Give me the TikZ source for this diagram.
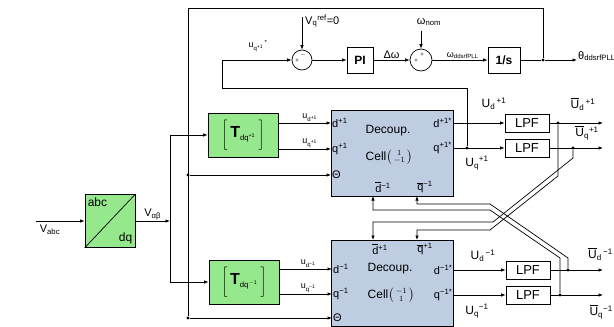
\documentclass[tikz,border=0pt]{standalone}
\usepackage{fontspec}
\usepackage{amsmath}
\setmainfont{Liberation Sans}
\usetikzlibrary{arrows.meta}

\definecolor{tgreen}{RGB}{150,232,140}
\definecolor{cellblue}{RGB}{190,205,225}
\newcommand{\ovl}[1]{$\overline{\mbox{#1}}$}
\newcommand{\Tdq}[1]{$\left[\rule[-13pt]{0pt}{29pt}\;\mbox{\fontsize{16}{18}\selectfont\textbf{T}\fontsize{11}{13}\selectfont\textsubscript{dq\textsuperscript{#1}}}\;\right]$}
\newcommand{\cellvec}[2]{Cell$\left(\rule[-4pt]{0pt}{12pt}\begin{smallmatrix}#1\\#2\end{smallmatrix}\right)$}

\tikzset{
    blk/.style={draw, line width=0.8pt, inner sep=1pt},
    tblk/.style={blk, fill=tgreen, minimum width=70pt, minimum height=44pt},
    cellblk/.style={blk, fill=cellblue, minimum width=122pt, minimum height=86pt},
    lpf/.style={blk, minimum width=44pt, minimum height=18pt, font=\fontsize{13}{15}\selectfont},
    sumnode/.style={draw, circle, line width=0.7pt, minimum size=20pt, inner sep=0pt},
    sign/.style={font=\fontsize{6}{7}\selectfont, inner sep=0pt},
    wire/.style={line width=0.7pt},
    link/.style={wire, -{Latex[length=4.5pt,width=3.5pt]}},
    junc/.style={circle, fill, inner sep=0pt, minimum size=3.2pt},
    lbl/.style={font=\fontsize{11}{13}\selectfont, inner sep=1pt},
    ulbl/.style={font=\fontsize{9}{11}\selectfont, inner sep=1pt},
    olbl/.style={font=\fontsize{12}{14}\selectfont, inner sep=1pt},
    pinlbl/.style={font=\fontsize{11}{13}\selectfont, inner sep=1pt},
    celltxt/.style={font=\fontsize{12}{14}\selectfont, inner sep=0pt}
}

\begin{document}
\begin{tikzpicture}[x=1pt, y=-1pt]
    \useasboundingbox (0,0) rectangle (614,327);

    % PLL loop
    \node[sumnode] (sum1) at (302,60) {};
    \node[sign] at ([shift={(-5,1)}]sum1.center) {+};
    \node[sign] at ([shift={(1,-5)}]sum1.center) {$-$};
    \node[blk, minimum width=26pt, minimum height=26pt, font=\fontsize{12}{14}\selectfont\bfseries] (pi) at (360,60) {PI};
    \node[sumnode, minimum size=22pt] (sum2) at (421,60) {};
    \node[sign] at ([shift={(-5,1)}]sum2.center) {+};
    \node[sign] at ([shift={(1,-5)}]sum2.center) {+};
    \node[blk, minimum width=32pt, minimum height=26pt, font=\fontsize{12}{14}\selectfont\bfseries] (integ) at (504,60) {1/s};
    \coordinate (vrefin) at (302,17);
    \node[lbl, anchor=west] (vref) at (304,21) {V\textsubscript{q}\textsuperscript{ref}=0};
    \coordinate (wnomin) at (421,31);
    \node[lbl] (wnom) at (429,22) {ω\textsubscript{nom}};
    \node[junc] (jth) at (543,60) {};
    \node[lbl, anchor=west] (thout) at (577,56) {θ\textsubscript{ddsrfPLL}};
    \draw[link] (vrefin) -- (sum1);
    \draw[link] (wnomin) -- (sum2);
    \draw[link] (sum1) -- (pi);
    \draw[link] (pi) -- node[lbl, above] {Δω} (sum2);
    \draw[link] (sum2) -- node[ulbl, above, pos=0.55] {ω\textsubscript{ddsrfPLL}} (integ);
    \draw[wire] (integ) -- (jth);
    \draw[link] (jth) -- (jth -| thout.west);

    % abc/dq and Park blocks
    \node[blk, fill=tgreen, minimum width=50pt, minimum height=53pt] (abcdq) at (110,221) {};
    \draw[line width=0.7pt] (abcdq.south west) -- (abcdq.north east);
    \node[celltxt, anchor=north west] (abc) at ([shift={(3,4)}]abcdq.north west) {abc};
    \node[celltxt, anchor=south east] (dq) at ([shift={(-3,-4)}]abcdq.south east) {dq};
    \node[tblk] (tp) at (243,135) {\Tdq{+1}};
    \node[tblk] (tm) at (244,282) {\Tdq{$-$1}};
    \coordinate (vin) at (36,221);
    \coordinate (vab) at (170,221);
    \node[lbl] (vabc) at (50,230) {V\textsubscript{abc}};
    \draw[link] (vin) -- (abcdq);
    \draw[link] (abcdq) -- node[lbl, above] {V\textsubscript{αβ}} (vab);
    \draw[wire] (vab |- tp) -- (vab |- tm);
    \draw[link] (vab |- tp) -- (tp);
    \draw[link] (vab |- tm) -- (tm);

    % decoupling cells
    \node[cellblk] (cellp) at (392,153) {};
    \node[cellblk] (cellm) at (392.5,283) {};
    \coordinate (p-din) at (331,123);
    \coordinate (p-qin) at (331,149);
    \coordinate (p-thin) at (331,175);
    \coordinate (p-dout) at (453,123);
    \coordinate (p-qout) at (453,148);
    \coordinate (p-dbar) at (373,196);
    \coordinate (p-qbar) at (417,196);
    \coordinate (m-din) at (332,269);
    \coordinate (m-qin) at (332,294);
    \coordinate (m-thin) at (332,318);
    \coordinate (m-dout) at (453.5,270);
    \coordinate (m-qout) at (453.5,295);
    \coordinate (m-dbar) at (373,240);
    \coordinate (m-qbar) at (417,240);
    \node[celltxt] at (388,131) {Decoup.};
    \node[celltxt] at (389,157) {\cellvec{1}{-1}};
    \node[pinlbl, anchor=west] at (p-din) {d\textsuperscript{+1}};
    \node[pinlbl, anchor=west] at (p-qin) {q\textsuperscript{+1}};
    \node[pinlbl, anchor=west] at (p-thin) {Θ};
    \node[pinlbl, anchor=east] at (p-dout) {d\textsuperscript{+1*}};
    \node[pinlbl, anchor=east] at (p-qout) {q\textsuperscript{+1*}};
    \node[pinlbl] at (383,187) {\ovl{d}\textsuperscript{−1}};
    \node[pinlbl] at (425,187) {\ovl{q}\textsuperscript{−1}};
    \node[celltxt] at (390,269) {Decoup.};
    \node[celltxt] at (391,295) {\cellvec{-1}{1}};
    \node[pinlbl, anchor=west] at (m-din) {d\textsuperscript{−1}};
    \node[pinlbl, anchor=west] at (m-qin) {q\textsuperscript{−1}};
    \node[pinlbl, anchor=west] at (m-thin) {Θ};
    \node[pinlbl, anchor=east] at (m-dout) {d\textsuperscript{−1*}};
    \node[pinlbl, anchor=east] at (m-qout) {q\textsuperscript{−1*}};
    \node[pinlbl] at (380,249) {\ovl{d}\textsuperscript{+1}};
    \node[pinlbl] at (425,249) {\ovl{q}\textsuperscript{+1}};
    \draw[link] (tp.east |- p-din) -- node[ulbl, above, pos=0.6] {u\textsubscript{d\textsuperscript{+1}}} (p-din);
    \draw[link] (tp.east |- p-qin) -- node[ulbl, above, pos=0.6] {u\textsubscript{q\textsuperscript{+1}}} (p-qin);
    \draw[link] (tm.east |- m-din) -- node[ulbl, above, pos=0.55] {u\textsubscript{d\textsuperscript{−1}}} (m-din);
    \draw[link] (tm.east |- m-qin) -- node[ulbl, above, pos=0.55] {u\textsubscript{q\textsuperscript{−1}}} (m-qin);

    % theta feedback
    \coordinate (thtop) at (188,8);
    \node[junc] (jthp) at (188,175) {};
    \node[junc] (jthm) at (188,318) {};
    \draw[wire] (jth) |- (thtop) -- (jthm);
    \draw[link] (jthp) -- (p-thin);
    \draw[link] (jthm) -- (m-thin);

    % filters and outputs
    \node[lpf] (lpf1) at (527,123) {LPF};
    \node[lpf] (lpf2) at (527,148) {LPF};
    \node[lpf] (lpf3) at (528,270) {LPF};
    \node[lpf] (lpf4) at (528,295) {LPF};
    \coordinate (o1) at (603,123);
    \coordinate (o2) at (603,148);
    \coordinate (o3) at (603,270);
    \coordinate (o4) at (603,295);
    \node[junc] (jfb) at (467,148) {};
    \node[junc] (j1) at (558,123) {};
    \node[junc] (j2) at (573,148) {};
    \node[junc] (j3) at (568,270) {};
    \node[junc] (j4) at (560,295) {};
    \draw[link] (p-dout) -- (lpf1);
    \draw[link] (p-qout) -- (lpf2);
    \draw[link] (m-dout) -- (lpf3);
    \draw[link] (m-qout) -- (lpf4);
    \draw[link] (lpf1) -- (o1);
    \draw[link] (lpf2) -- (o2);
    \draw[link] (lpf3) -- (o3);
    \draw[link] (lpf4) -- (o4);
    \node[olbl] (udp) at (494,104) {U\textsubscript{d}\textsuperscript{\,+1}};
    \node[olbl] (uqp) at (477,163) {U\textsubscript{q}\textsuperscript{+1}};
    \node[olbl] (ubdp) at (583,104) {\ovl{U}\textsubscript{d}\textsuperscript{\,+1}};
    \node[olbl] (ubqp) at (587,133) {\ovl{U}\textsubscript{q}\textsuperscript{+1}};
    \node[olbl] (udm) at (483,256) {U\textsubscript{d}\textsuperscript{\,−1}};
    \node[olbl] (uqm) at (477,311) {U\textsubscript{q}\textsuperscript{−1}};
    \node[olbl, anchor=east] (ubdm) at (614,254) {\ovl{U}\textsubscript{d}\textsuperscript{\,−1}};
    \node[olbl, anchor=east] (ubqm) at (614,312) {\ovl{U}\textsubscript{q}\textsuperscript{−1}};

    % q reference feedback
    \coordinate (fbc) at (222,88);
    \node[ulbl] (uqref) at (258,46) {u\textsubscript{q\textsuperscript{+1}}\textsuperscript{\,*}};
    \draw[link] (jfb) |- (fbc) |- (sum1);

    % cross coupling
    \draw[link] (j1) -- ++(0,53) -- ++(-68,54) -| (m-qbar);
    \draw[link] (j2) -- ++(0,10) -- ++(-80,64) -| (m-dbar);
    \draw[link] (j3) -- ++(0,-12) -- ++(-78,-54) -| (p-qbar);
    \draw[link] (j4) -- ++(0,-37) -- ++(-70,-48) -| (p-dbar);
\end{tikzpicture}
\end{document}
